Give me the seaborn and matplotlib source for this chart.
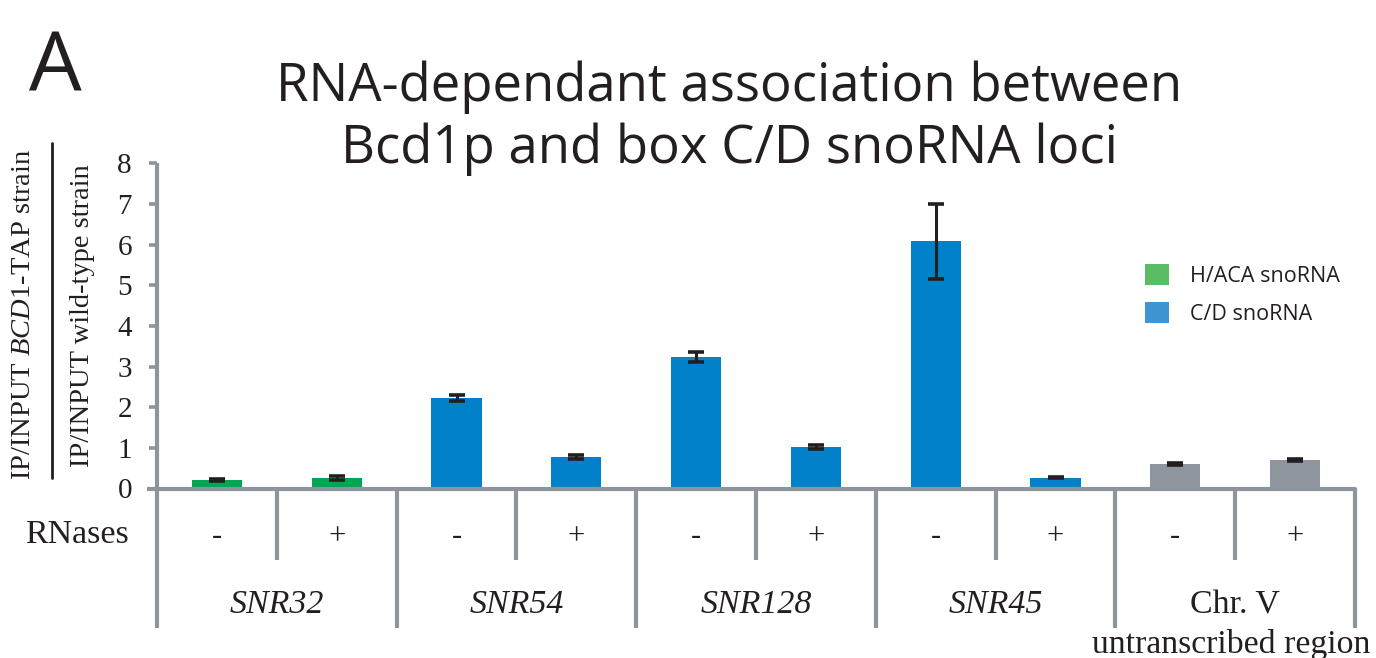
import numpy as np
import pandas as pd
import matplotlib
matplotlib.use("Agg")
import matplotlib.pyplot as plt
import matplotlib.transforms as mtransforms
from matplotlib.patches import Patch
import seaborn as sns

# ---- data -------------------------------------------------------------
loci = ["SNR32", "SNR32", "SNR54", "SNR54", "SNR128", "SNR128",
        "SNR45", "SNR45", "Chr. V", "Chr. V"]
rnases = ["-", "+", "-", "+", "-", "+", "-", "+", "-", "+"]
snorna_class = ["H/ACA snoRNA", "H/ACA snoRNA", "C/D snoRNA", "C/D snoRNA",
                "C/D snoRNA", "C/D snoRNA", "C/D snoRNA", "C/D snoRNA",
                "control", "control"]
enrichment = [0.21, 0.26, 2.23, 0.78, 3.23, 1.02, 6.08, 0.27, 0.60, 0.70]
sem = [0.02, 0.05, 0.07, 0.05, 0.13, 0.05, 0.93, 0.02, 0.03, 0.03]
group_labels = ["SNR32", "SNR54", "SNR128", "SNR45", "Chr. V"]
group_italic = [True, True, True, True, False]
y_ticks = [0, 1, 2, 3, 4, 5, 6, 7, 8]

# ---- style ------------------------------------------------------------
sns.set_style("white")
plt.rcParams["font.family"] = ["Liberation Serif", "DejaVu Serif"]
plt.rcParams["mathtext.fontset"] = "custom"
plt.rcParams["mathtext.it"] = "Liberation Serif:italic"
plt.rcParams["mathtext.rm"] = "Liberation Serif"

INK = "#231F20"
AXIS_GREY = "#8D949B"
bar_palette = {"H/ACA snoRNA": "#00A651", "C/D snoRNA": "#0081C9",
               "control": "#8E959C"}
legend_colors = {"H/ACA snoRNA": "#5BBD63", "C/D snoRNA": "#3F95D3"}
SANS = "Open Sans"

W, H = 1376, 658
fig = plt.figure(figsize=(W / 100, H / 100), dpi=100)

x0_px, x1_px = 157, 1355
y0_px, y8_px = 488.5, 163.3
ax = fig.add_axes([x0_px / W, 1 - y0_px / H, (x1_px - x0_px) / W,
                   (y0_px - y8_px) / H])

df = pd.DataFrame({
    "sample": [f"{l} {r}" for l, r in zip(loci, rnases)],
    "enrichment": enrichment,
    "class": snorna_class,
})

sns.barplot(data=df, x="sample", y="enrichment", hue="class",
            palette=bar_palette, dodge=False, width=0.42, errorbar=None,
            legend=False, saturation=1, linewidth=0, ax=ax, zorder=2)

xpos = np.arange(len(enrichment))
ax.errorbar(xpos, enrichment, yerr=sem, fmt="none", ecolor=INK,
            elinewidth=2.2, capsize=5.5, capthick=2.6, zorder=4)

ax.set_xlim(-0.5, len(enrichment) - 0.5)
ax.set_ylim(0, 8)
for s in ax.spines.values():
    s.set_visible(False)
ax.set_xlabel("")
ax.set_ylabel("")
ax.set_xticks([])
ax.set_yticks(y_ticks)
ax.set_yticklabels([str(t) for t in y_ticks], fontsize=21, color=INK)
ax.tick_params(axis="y", length=6, width=2.6, color=AXIS_GREY, pad=12,
               left=True)
ax.grid(False)

# ---- axis frame and category separators --------------------------------
axh = y0_px - y8_px
long_drop = -(628 - y0_px) / axh
short_drop = -(560 - y0_px) / axh
px_per_unit = (x1_px - x0_px) / len(enrichment)
trans = mtransforms.blended_transform_factory(ax.transData, ax.transAxes)
line_kw = dict(color=AXIS_GREY, lw=3.0, transform=trans, clip_on=False,
               solid_capstyle="butt", solid_joinstyle="round", zorder=3)
n = len(enrichment)
# y axis running down into the category table
ax.plot([-0.5, -0.5], [1, long_drop], **line_kw)
# x axis with right-hand border
ax.plot([-0.5 - 10 / px_per_unit, n - 0.5, n - 0.5], [0, 0, long_drop],
        **line_kw)
for i in range(0, n, 2):
    ax.plot([i + 0.5, i + 0.5], [0, short_drop], **line_kw)
for i in range(1, n - 1, 2):
    ax.plot([i + 0.5, i + 0.5], [0, long_drop], **line_kw)

# ---- category table text ----------------------------------------------
sign_y = -(537 - y0_px) / axh
for x, r in zip(xpos, rnases):
    ax.text(x, sign_y, r, transform=trans, ha="center", va="center",
            fontsize=22, color=INK, clip_on=False)

group_y = -(605 - y0_px) / axh
for g, (lab, it) in enumerate(zip(group_labels, group_italic)):
    ax.text(2 * g + 0.5, group_y, lab, transform=trans, ha="center",
            va="center", fontsize=24.5, color=INK,
            style="italic" if it else "normal", clip_on=False)
ax.text(2 * 4 + 0.5 - 4 / px_per_unit, -(645 - y0_px) / axh,
        "untranscribed region", transform=trans, ha="center", va="center",
        fontsize=24.3, color=INK, clip_on=False)

fig.text(77 / W, 1 - 535 / H, "RNases", ha="center", va="center",
         fontsize=24.5, color=INK)

# ---- y axis label (ratio) ---------------------------------------------
fig.text(24 / W, 1 - 315 / H, r"IP/INPUT $\mathit{BCD1}$-TAP strain",
         rotation=90, ha="center", va="center", fontsize=20.5, color=INK)
fig.text(83 / W, 1 - 316 / H, "IP/INPUT wild-type strain",
         rotation=90, ha="center", va="center", fontsize=20.5, color=INK)
fig.add_artist(plt.Line2D([52 / W, 52 / W], [1 - 143 / H, 1 - 478 / H],
                          color=INK, lw=2.0, transform=fig.transFigure))

# ---- title and panel letter --------------------------------------------
fig.text(729 / W, 1 - 118 / H,
         "RNA-dependant association between\nBcd1p and box C/D snoRNA loci",
         ha="center", va="center", fontsize=38, color=INK, family=SANS,
         linespacing=1.2)
fig.text(55 / W, 1 - 70 / H, "A", ha="center", va="center", fontsize=60,
         color=INK, family=SANS)

# ---- legend -------------------------------------------------------------
handles = [Patch(facecolor=c, edgecolor="none", label=k)
           for k, c in legend_colors.items()]
ax.legend(handles=handles, loc="upper left",
          bbox_to_anchor=(1145 / W, 1 - 264 / H),
          bbox_transform=fig.transFigure, frameon=False, borderpad=0,
          borderaxespad=0, handlelength=1.1, handleheight=1.1,
          handletextpad=1.0, labelspacing=0.72,
          prop={"family": SANS, "size": 15.5}, labelcolor=INK)

fig.savefig("out.png", dpi=100)
